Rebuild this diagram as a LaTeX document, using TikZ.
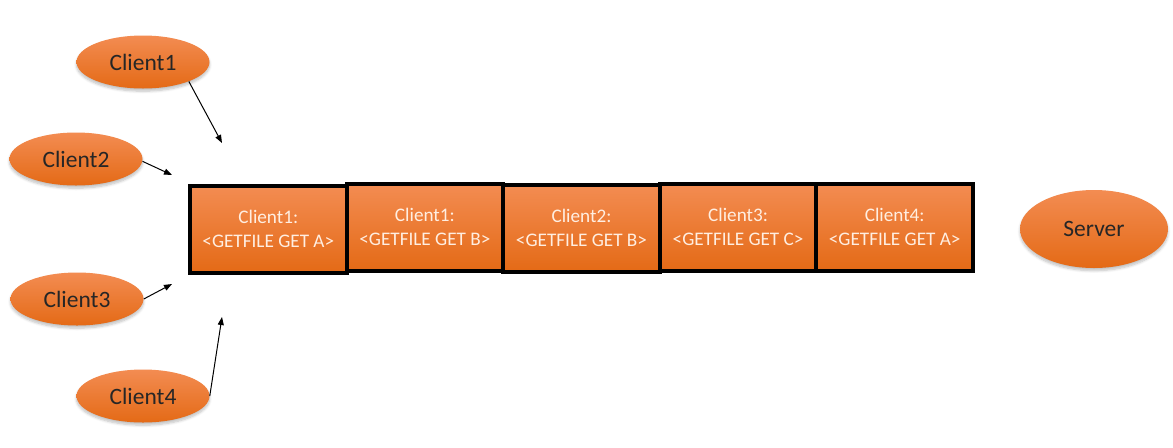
\documentclass[tikz,border=0pt]{standalone}
\usepackage{fontspec}
\setmainfont{Carlito}
\usetikzlibrary{shapes.geometric,arrows.meta,shadows.blur}
\definecolor{orTop}{RGB}{243,140,82}
\definecolor{orBot}{RGB}{228,106,22}
\definecolor{boxText}{RGB}{255,238,225}
\tikzset{
  client/.style={ellipse, draw=none, top color=orTop, bottom color=orBot,
    minimum width=99.75pt, minimum height=39.75pt, inner sep=0pt,
    font=\fontsize{17.6}{20}\selectfont, text=black!85,
    blur shadow={shadow xshift=0pt, shadow yshift=-2pt, shadow opacity=25, shadow blur steps=6}},
  server/.style={client, minimum width=111pt, minimum height=58.5pt},
  qbox/.style={rectangle, draw=black, line width=3pt, top color=orTop, bottom color=orBot,
    minimum width=117.4pt, minimum height=65.25pt, inner sep=0pt, align=center,
    font=\fontsize{14.4}{18}\selectfont, text=boxText},
  arr/.style={-{Triangle[length=6pt,width=4.5pt]}, line width=0.75pt, black}
}
\begin{document}
\begin{tikzpicture}[x=0.75pt,y=-0.75pt]
\useasboundingbox (0,0) rectangle (1173,447);
% clients
\node[client] (c1) at (143,62) {Client1};
\node[client] (c2) at (76,159) {Client2};
\node[client] (c3) at (77,299) {Client3};
\node[client] (c4) at (143,396) {Client4};
\node[server] (srv) at (1094,229) {Server};
% queue boxes
\node[qbox] (b1) at (268.3,229) {Client1:\\<GETFILE GET A>};
\node[qbox] (b2) at (424.9,227) {Client1:\\<GETFILE GET B>};
\node[qbox] (b3) at (581.5,228) {Client2:\\<GETFILE GET B>};
\node[qbox] (b4) at (738.1,227) {Client3:\\<GETFILE GET C>};
\node[qbox] (b5) at (894.7,227) {Client4:\\<GETFILE GET A>};
% free arrow ends
\coordinate (a1) at (222,143);
\coordinate (a2) at (172,175);
\coordinate (a3) at (172,284);
\coordinate (a4) at (222,317);
\draw[arr] (c1.-23) -- (a1);
\draw[arr] (c2.-2) -- (a2);
\draw[arr] (c3.east) -- (a3);
\draw[arr] (c4.east) -- (a4);
\end{tikzpicture}
\end{document}
